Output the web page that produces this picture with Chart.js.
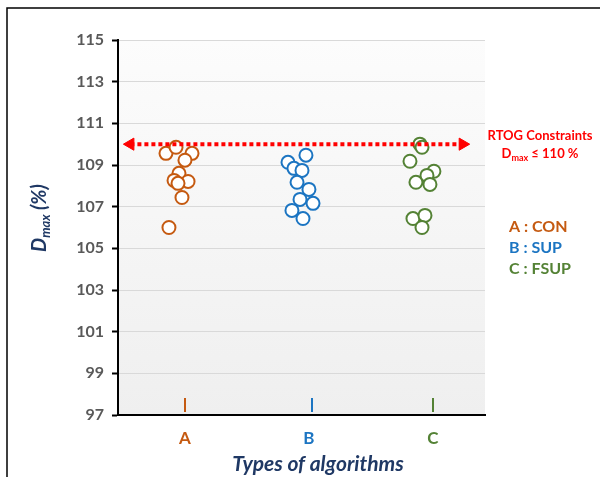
<!DOCTYPE html>
<html>
<head>
<meta charset="utf-8">
<script src="https://cdn.jsdelivr.net/npm/chart.js@4"></script>
<style>
  html, body { margin: 0; padding: 0; background: #fff; }
  canvas { display: block; }
</style>
</head>
<body>
<canvas id="dmaxChart" width="600" height="477"></canvas>
<script>
// categories and colours
const catLabels = ['A', 'B', 'C'];
const catColors = ['#C55A11', '#1C75C2', '#548235'];
const legendLabels = ['A : CON', 'B : SUP', 'C : FSUP'];

// y ticks
const yMin = 97, yMax = 115, yStep = 2;

// points (x = category position with jitter, y = Dmax %)
const conX = [0.847, 0.928, 1.057, 1.0, 0.952, 0.912, 1.025, 0.944, 0.976, 0.871];
const conY = [109.56, 109.85, 109.56, 109.23, 108.6, 108.26, 108.21, 108.12, 107.44, 106.0];
const supX = [1.976, 1.831, 1.879, 1.944, 1.904, 2.0, 1.928, 2.033, 1.863, 1.952];
const supY = [109.47, 109.13, 108.84, 108.74, 108.17, 107.83, 107.35, 107.16, 106.82, 106.43];
const fsupX = [2.895, 2.912, 2.815, 3.008, 2.952, 2.863, 2.976, 2.839, 2.936, 2.912];
const fsupY = [110.0, 109.85, 109.18, 108.70, 108.50, 108.17, 108.07, 106.43, 106.58, 106.0];

// RTOG constraint line
const limitX = [0.56, 3.24];
const limitY = [110, 110];

const FONT = 'Lato, "Open Sans", sans-serif';
const NAVY = '#1F3864';

function toPoints(xs, ys) {
    return xs.map((x, i) => ({ x: x, y: ys[i] }));
}

function circleSet(label, xs, ys, color) {
    return {
        label: label,
        data: toPoints(xs, ys),
        pointStyle: 'circle',
        pointRadius: 6.5,
        pointBorderWidth: 2,
        pointBorderColor: color,
        pointBackgroundColor: '#ffffff',
        showLine: false
    };
}

// text with a subscript part: parts = [[text, size, isSub], ...]
function drawParts(ctx, parts, cx, cy, style, color) {
    ctx.fillStyle = color;
    ctx.textBaseline = 'middle';
    ctx.textAlign = 'left';
    let total = 0;
    parts.forEach(p => {
        ctx.font = style + ' ' + p[1] + 'px ' + FONT;
        p.w = ctx.measureText(p[0]).width;
        total += p.w;
    });
    let x = cx - total / 2;
    parts.forEach(p => {
        ctx.font = style + ' ' + p[1] + 'px ' + FONT;
        ctx.fillText(p[0], x, cy + (p[2] ? p[1] * 0.45 : 0));
        x += p.w;
    });
}

const decorPlugin = {
    id: 'decor',
    beforeDraw(chart) {
        const { ctx, chartArea: a } = chart;
        ctx.save();
        const g = ctx.createLinearGradient(0, a.top, 0, a.bottom);
        g.addColorStop(0, '#fcfcfc');
        g.addColorStop(1, '#efefef');
        ctx.fillStyle = g;
        ctx.fillRect(a.left, a.top, a.right - a.left, a.bottom - a.top);
        ctx.restore();
    },
    afterDraw(chart) {
        const { ctx, chartArea: a } = chart;
        const xs = chart.scales.x;
        ctx.save();

        // frame of the figure
        ctx.strokeStyle = '#000';
        ctx.lineWidth = 1.5;
        ctx.beginPath();
        ctx.moveTo(7, 477);
        ctx.lineTo(7, 8);
        ctx.lineTo(600, 8);
        ctx.stroke();

        // coloured category ticks
        catLabels.forEach((c, i) => {
            const px = Math.round(xs.getPixelForValue(i + 1)) + (i === 1 ? 3 : 0);
            ctx.strokeStyle = catColors[i];
            ctx.lineWidth = 2;
            ctx.beginPath();
            ctx.moveTo(px, a.bottom - 17);
            ctx.lineTo(px, a.bottom - 3);
            ctx.stroke();
        });

        // RTOG note
        ctx.fillStyle = '#ff0000';
        ctx.textAlign = 'center';
        ctx.textBaseline = 'middle';
        ctx.font = 'bold 13px ' + FONT;
        ctx.fillText('RTOG Constraints', 540, 136);
        drawParts(ctx, [['D', 13, false], ['max', 9, true], [' \u2264 110 %', 13, false]], 540, 154, 'bold', '#ff0000');

        // legend text
        ctx.textAlign = 'left';
        ctx.textBaseline = 'middle';
        ctx.font = 'bold 16px ' + FONT;
        legendLabels.forEach((t, i) => {
            ctx.fillStyle = catColors[i];
            ctx.fillText(t, 509, 227 + i * 21);
        });

        // axis titles
        ctx.save();
        ctx.translate(40, 218);
        ctx.rotate(-Math.PI / 2);
        drawParts(ctx, [['D', 20, false], ['max', 13, true], [' (%)', 20, false]], 0, 0, 'italic bold', NAVY);
        ctx.restore();

        ctx.fillStyle = NAVY;
        ctx.textAlign = 'center';
        ctx.textBaseline = 'middle';
        ctx.font = 'italic bold 21px ' + FONT;
        ctx.fillText('Types of algorithms', 318, 464);

        ctx.restore();
    }
};

new Chart(document.getElementById('dmaxChart'), {
    type: 'scatter',
    data: {
        datasets: [
            {
                label: 'RTOG',
                data: toPoints(limitX, limitY),
                showLine: true,
                borderColor: '#ff0000',
                borderWidth: 4,
                borderDash: [4, 3],
                borderCapStyle: 'butt',
                pointStyle: 'triangle',
                pointRadius: 7,
                pointRotation: [270, 90],
                pointBackgroundColor: '#ff0000',
                pointBorderColor: '#ff0000',
                pointBorderWidth: 1
            },
            circleSet('CON', conX, conY, catColors[0]),
            circleSet('SUP', supX, supY, catColors[1]),
            circleSet('FSUP', fsupX, fsupY, catColors[2])
        ]
    },
    options: {
        responsive: false,
        animation: false,
        layout: { padding: { top: 40, right: 115, left: 0, bottom: 0 } },
        plugins: {
            legend: { display: false },
            tooltip: { enabled: false }
        },
        scales: {
            x: {
                type: 'linear',
                min: 0.46,
                max: 3.42,
                afterFit: s => { s.height = 62; },
                afterBuildTicks: s => { s.ticks = catLabels.map((c, i) => ({ value: i + 1 })); },
                grid: { display: false },
                border: { display: true, color: '#000', width: 2 },
                ticks: {
                    padding: 5,
                    color: ctx => catColors[ctx.index] || '#000',
                    font: { family: FONT, size: 17, weight: 'bold' },
                    callback: (v, i) => catLabels[i]
                }
            },
            y: {
                min: yMin,
                max: yMax,
                afterFit: s => { s.width = 118; },
                grid: {
                    color: '#d9d9d9',
                    lineWidth: 1,
                    tickColor: '#000',
                    tickWidth: 2,
                    tickLength: 6
                },
                border: { display: true, color: '#000', width: 2 },
                ticks: {
                    stepSize: yStep,
                    padding: 8,
                    color: '#595959',
                    font: { family: FONT, size: 16, weight: 'bold' }
                }
            }
        }
    },
    plugins: [decorPlugin]
});
</script>
</body>
</html>
